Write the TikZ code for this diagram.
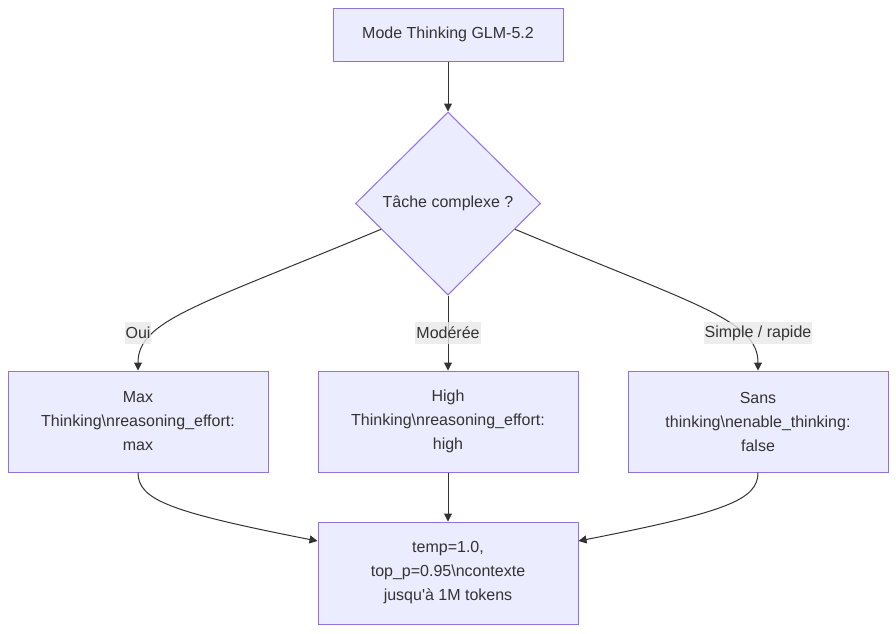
\documentclass[tikz,border=0pt]{standalone}
\usepackage{fontspec}
\setmainfont{Liberation Sans}
\usetikzlibrary{shapes.geometric,arrows.meta,calc}
\definecolor{nodefill}{HTML}{ECECFF}
\definecolor{nodeborder}{HTML}{9370DB}
\definecolor{edgecol}{HTML}{333333}
\definecolor{labelbg}{HTML}{E8E8E8}
\begin{document}
\begin{tikzpicture}[x=1pt,y=-1pt,
  every node/.style={font=\fontsize{16}{24}\selectfont, text=edgecol},
  box/.style={draw=nodeborder, fill=nodefill, line width=1pt, rectangle, inner sep=0pt, align=center},
  decision/.style={draw=nodeborder, fill=nodefill, line width=1pt, diamond, inner sep=0pt, minimum width=185pt, minimum height=183pt, align=center},
  edge/.style={draw=edgecol, line width=1pt, -{Triangle[length=8pt,width=8pt]}},
  elabel/.style={fill=labelbg, fill opacity=0.8, text opacity=1, inner sep=1pt, minimum height=22pt}
]
\useasboundingbox (0,0) rectangle (896,633);
\node[box, minimum width=230pt, minimum height=53pt] (top) at (448,34.5) {Mode Thinking GLM-5.2};
\node[decision] (dec) at (448,203.5) {Tâche complexe ?};
\node[box, minimum width=260pt, minimum height=101pt] (max) at (138,421.5) {Max\\Thinking\textbackslash nreasoning\_effort:\\max};
\node[box, minimum width=260pt, minimum height=101pt] (high) at (448,421.5) {High\\Thinking\textbackslash nreasoning\_effort:\\high};
\node[box, minimum width=260pt, minimum height=101pt] (sans) at (758,421.5) {Sans\\thinking\textbackslash nenable\_thinking:\\false};
\node[box, minimum width=260pt, minimum height=102pt] (out) at (448,573) {temp=1.0,\\top\_p=0.95\textbackslash ncontexte\\jusqu\textquotesingle à 1M tokens};

\coordinate (dl) at ($(dec.west)!0.28!(dec.south)$);
\coordinate (dr) at ($(dec.east)!0.28!(dec.south)$);

\draw[edge] (top.south) -- (dec.north);
\draw[edge] (dl) .. controls (200,305) and (138,320) .. (max.north);
\draw[edge] (dec.south) -- (high.north);
\draw[edge] (dr) .. controls (696,305) and (758,320) .. (sans.north);
\draw[edge] (max.south) .. controls (138,500) and (170,512) .. (out.west |- 0,541);
\draw[edge] (high.south) -- (out.north);
\draw[edge] (sans.south) .. controls (758,500) and (726,512) .. (out.east |- 0,541);

\node[elabel] (l1) at (138,333) {Oui};
\node[elabel] (l2) at (448,333) {Modérée};
\node[elabel] (l3) at (758,333) {Simple / rapide};
\end{tikzpicture}
\end{document}
